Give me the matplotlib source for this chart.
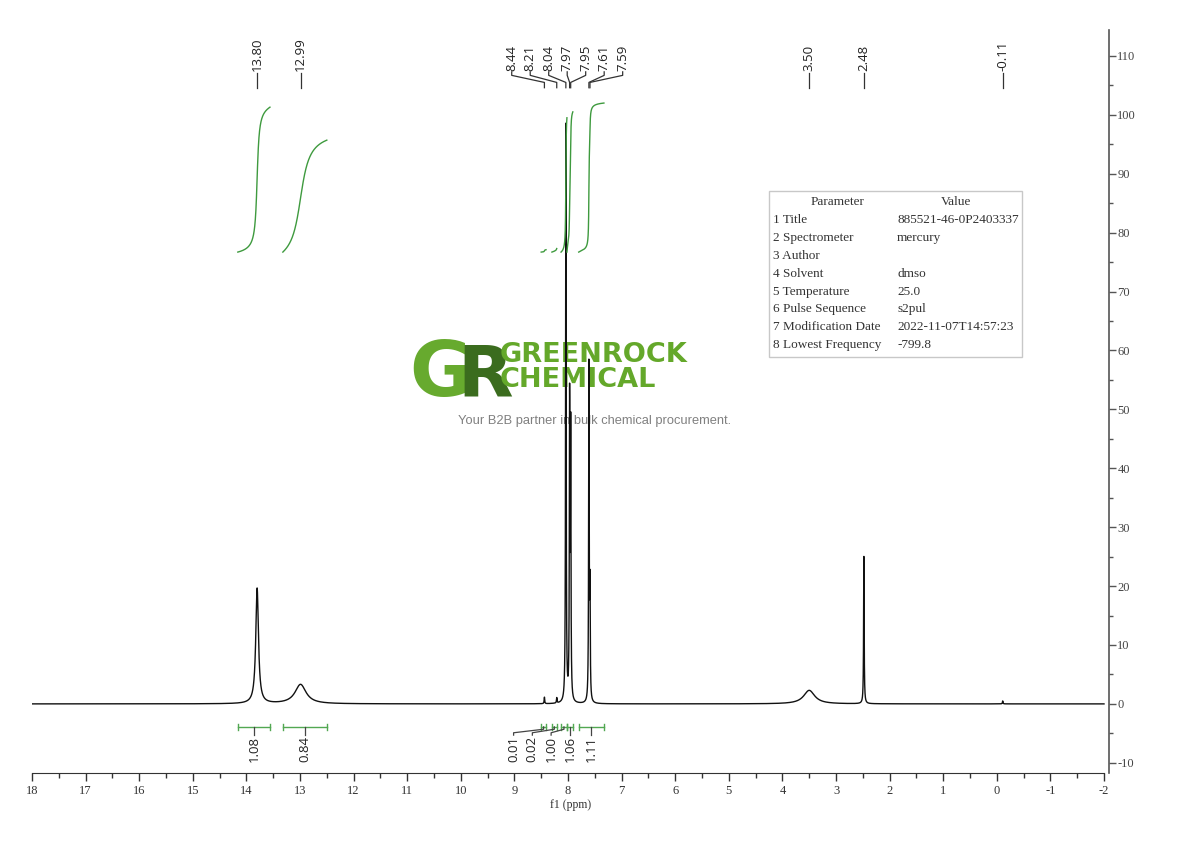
import numpy as np
import matplotlib
matplotlib.use("Agg")
import matplotlib.pyplot as plt
from matplotlib.patches import Rectangle

plt.rcParams['axes.unicode_minus'] = False

# ---------------- data ----------------
peak_ppm = [13.80, 12.99, 8.44, 8.21, 8.04, 7.97, 7.95, 7.61, 7.59, 3.50, 2.48, -0.11]
peak_height = [19.6, 3.3, 1.1, 0.9, 98.0, 50.0, 45.0, 57.0, 18.0, 2.3, 25.0, 0.5]
peak_fwhm = [0.06, 0.25, 0.012, 0.012, 0.012, 0.012, 0.012, 0.012, 0.012, 0.25, 0.012, 0.012]
peak_labels = ["13.80", "12.99", "8.44", "8.21", "8.04", "7.97", "7.95", "7.61", "7.59",
               "3.50", "2.48", "-0.11"]

int_from = [14.16, 13.32, 8.50, 8.30, 8.13, 8.02, 7.80]
int_to = [13.56, 12.50, 8.41, 8.21, 8.02, 7.91, 7.33]
int_labels = ["1.08", "0.84", "0.01", "0.02", "1.00", "1.06", "1.11"]
int_curve_top = [101.3, 95.7, 77.1, 77.3, 99.5, 100.5, 102.0]
int_curve_base = 76.7

x_ticks = list(range(18, -3, -1))
y_ticks = list(range(-10, 111, 10))

table_params = ["1 Title", "2 Spectrometer", "3 Author", "4 Solvent", "5 Temperature",
                "6 Pulse Sequence", "7 Modification Date", "8 Lowest Frequency"]
table_values = ["885521-46-0P2403337", "mercury", "", "dmso", "25.0", "s2pul",
                "2022-11-07T14:57:23", "-799.8"]

# ---------------- figure ----------------
W, H = 1190, 841
fig = plt.figure(figsize=(W / 100, H / 100), dpi=100)
fig.patch.set_facecolor("white")


def fx(px):
    return px / W


def fy(py):
    return 1 - py / H


ax = fig.add_axes([fx(32), fy(773), (1109 - 32) / W, (773 - 30) / H])
x_right = -2 - 5 * 20 / 1072
ax.set_xlim(18, x_right)
ax.set_ylim(-11.73, 114.4)
ax.set_facecolor("none")

# spectrum
xs = np.linspace(18.0, -2.0, 40001)
ys = np.zeros_like(xs)
for c, h, w in zip(peak_ppm, peak_height, peak_fwhm):
    g = w / 2
    ys += h * g ** 2 / ((xs - c) ** 2 + g ** 2)
ax.plot(xs, ys, color="#111111", lw=1.0, zorder=3)

# integral curves and brackets
green_curve = "#3e9a3e"
green_br = "#52a852"
for a, b, top in zip(int_from, int_to, int_curve_top):
    m = (xs <= a) & (xs >= b)
    seg = ys[m]
    cum = np.cumsum(seg)
    cum = (cum - cum[0]) / (cum[-1] - cum[0])
    ax.plot(xs[m], int_curve_base + cum * (top - int_curve_base), color=green_curve,
            lw=1.0, zorder=4)
    yb = -3.9
    ax.plot([a, b], [yb, yb], color=green_br, lw=1.0, zorder=4)
    ax.plot([a, a], [yb - 0.5, yb + 0.5], color=green_br, lw=1.0, zorder=4)
    ax.plot([b, b], [yb - 0.5, yb + 0.5], color=green_br, lw=1.0, zorder=4)

# integral label positions (spread so they do not overlap)
centers = [(a + b) / 2 for a, b in zip(int_from, int_to)]
order = np.argsort(centers)  # low ppm first (right side)
lab_pos = [0.0] * len(centers)
prev = None
for i in order:
    p = centers[i]
    if prev is not None and p < prev + 0.35:
        p = prev + 0.35
    lab_pos[i] = p
    prev = p
for c, lx, t in zip(centers, lab_pos, int_labels):
    if abs(c - lx) < 1e-6:
        ax.plot([c, c], [-3.9, -5.3], color="#444444", lw=0.9, zorder=4)
    else:
        ax.plot([c, c, lx, lx], [-3.9, -4.3, -4.9, -5.3], color="#444444", lw=0.9, zorder=4)
    ax.text(lx, -5.5, t, rotation=90, ha="center", va="top", fontsize=9.5,
            family="Open Sans", color="#222222", zorder=5)

# peak labels on top
grp = [i for i, p in enumerate(peak_ppm) if 7.0 < p < 9.0]
grp_ppm = [peak_ppm[i] for i in grp]
gc = (max(grp_ppm) + min(grp_ppm)) / 2
n = len(grp)
spacing = 0.345
for k, i in enumerate(grp):
    p = peak_ppm[i]
    lx = gc + spacing * ((n - 1) / 2 - k)
    ax.plot([p, p, lx, lx], [104.6, 105.5, 106.7, 107.3], color="#333333", lw=0.9,
            zorder=4, clip_on=False)
    ax.text(lx, 107.5, peak_labels[i], rotation=90, ha="center", va="bottom",
            fontsize=9.5, family="Open Sans", color="#222222", clip_on=False)
for i, p in enumerate(peak_ppm):
    if i in grp:
        continue
    ax.plot([p, p], [104.6, 107.1], color="#333333", lw=0.9, zorder=4, clip_on=False)
    ax.text(p, 107.5, peak_labels[i], rotation=90, ha="center", va="bottom",
            fontsize=9.5, family="Open Sans", color="#222222", clip_on=False)

# axes styling
for s in ["left", "top"]:
    ax.spines[s].set_visible(False)
ax.spines["bottom"].set_bounds(18, -2)
ax.spines["bottom"].set_color("#333333")
ax.spines["right"].set_color("#555555")
ax.spines["right"].set_linewidth(1.2)
ax.set_xticks(x_ticks)
ax.set_xticklabels([str(v) for v in x_ticks])
ax.set_xticks([v + 0.5 for v in range(-2, 18)], minor=True)
ax.yaxis.tick_right()
ax.set_yticks(y_ticks)
ax.set_yticklabels([str(v) for v in y_ticks])
ax.set_yticks(list(range(-5, 111, 10)), minor=True)
ax.tick_params(axis="x", which="major", direction="out", length=6, width=1,
               color="#333333", labelsize=9, pad=3, labelcolor="#333333")
ax.tick_params(axis="x", which="minor", direction="out", length=3.5, width=1,
               color="#333333")
ax.tick_params(axis="y", which="major", direction="out", length=5, width=1,
               color="#555555", labelsize=9, pad=1, labelcolor="#444444")
ax.tick_params(axis="y", which="minor", direction="out", length=3, width=1,
               color="#555555")
for lab in ax.get_xticklabels() + ax.get_yticklabels():
    lab.set_family("Liberation Serif")
ax.set_xlabel("f1 (ppm)", fontsize=8.5, family="Liberation Serif", color="#333333",
              labelpad=1)

# watermark logo (behind the spectrum)
tf = fig.transFigure
ax.text(fx(409), fy(396), "G", transform=tf, fontsize=55, fontweight="bold",
        family="DejaVu Sans", color="#67aa2e", ha="left", va="baseline", zorder=1)
ax.text(fx(457), fy(396), "R", transform=tf, fontsize=52, fontweight="bold",
        family="DejaVu Sans", color="#3b6c1e", ha="left", va="baseline", zorder=1)
ax.text(fx(500), fy(362), "GREENROCK", transform=tf, fontsize=19.5, fontweight="bold",
        family="DejaVu Sans", color="#64a82a", ha="left", va="baseline", zorder=1)
ax.text(fx(500), fy(387), "CHEMICAL", transform=tf, fontsize=19.5, fontweight="bold",
        family="DejaVu Sans", color="#64a82a", ha="left", va="baseline", zorder=1)
ax.text(fx(594.5), fy(421), "Your B2B partner in bulk chemical procurement.",
        transform=tf, fontsize=9.3, family="Liberation Sans", color="#808080",
        ha="center", va="center", zorder=1)

# parameter table
fig.patches.append(Rectangle((fx(769), fy(357)), (1022 - 769) / W, (357 - 191) / H,
                             transform=tf, facecolor="white", edgecolor="#c8c8c8",
                             lw=1.0, zorder=2))
fig.text(fx(838), fy(202), "Parameter", ha="center", va="center", fontsize=9.5,
         family="Liberation Serif", color="#333333")
fig.text(fx(956), fy(202), "Value", ha="center", va="center", fontsize=9.5,
         family="Liberation Serif", color="#333333")
for r, (pname, pval) in enumerate(zip(table_params, table_values)):
    yy = 220 + 17.9 * r
    fig.text(fx(773), fy(yy), pname, ha="left", va="center", fontsize=9.5,
             family="Liberation Serif", color="#333333")
    fig.text(fx(897), fy(yy), pval, ha="left", va="center", fontsize=9.5,
             family="Liberation Serif", color="#333333")

fig.savefig("out.png", dpi=100)
